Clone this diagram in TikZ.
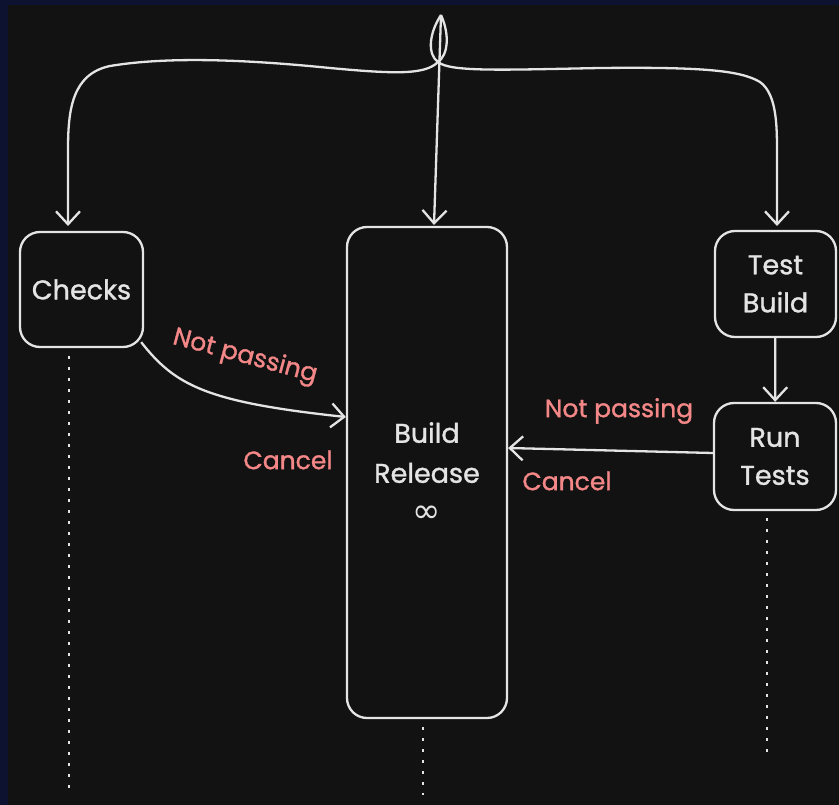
\documentclass[tikz,border=0pt]{standalone}
\usepackage{fontspec}
\setmainfont{Poppins}[FakeBold=1.2]
\newfontfamily\symbolfont{DejaVu Sans}
\usetikzlibrary{arrows.meta}
\definecolor{bgnavy}{HTML}{0D1230}
\definecolor{panel}{HTML}{121212}
\definecolor{ink}{HTML}{E4E4E4}
\definecolor{alert}{HTML}{F48787}

\begin{document}
\begin{tikzpicture}[x=1pt,y=-1pt,
  box/.style={draw=ink, line width=2.3pt, rounded corners=20pt, fill=panel,
    text=ink, align=center, inner sep=0pt,
    font=\fontsize{27}{38}\selectfont},
  flow/.style={draw=ink, line width=2.3pt,
    -{Straight Barb[length=13pt,width=24pt,line width=2.3pt]}},
  lifeline/.style={draw=ink, line width=2.3pt, dash pattern=on 3pt off 8pt},
  note/.style={text=alert, inner sep=0pt, font=\fontsize{25}{28}\selectfont}]

  % canvas
  \useasboundingbox (0,0) rectangle (839,805);
  \fill[bgnavy] (0,0) rectangle (839,805);
  \fill[panel] (8,5) rectangle (839,805);

  % lifelines under the stages
  \coordinate (ckTop) at (69,356);
  \coordinate (ckEnd) at (69,792);
  \coordinate (brTop) at (423,727);
  \coordinate (brEnd) at (423,795);
  \coordinate (rtTop) at (767,518);
  \coordinate (rtEnd) at (767,752);
  \draw[lifeline] (ckTop) -- (ckEnd);
  \draw[lifeline] (brTop) -- (brEnd);
  \draw[lifeline] (rtTop) -- (rtEnd);

  % stages
  \node[box, minimum width=123pt, minimum height=115pt] (checks) at (81.5,289.5) {Checks};
  \node[box, minimum width=160pt, minimum height=491pt, font=\fontsize{27}{40}\selectfont] (build) at (427,472.5) {Build\\Release\\{\symbolfont\fontsize{34}{40}\selectfont ∞}};
  \node[box, minimum width=121pt, minimum height=106pt] (testbuild) at (775.5,284) {Test\\Build};
  \node[box, minimum width=122pt, minimum height=107pt] (runtests) at (775,456.5) {Run\\Tests};

  % trigger fork at the top
  \coordinate (start) at (441,15);
  \coordinate (knot) at (438,62);
  \coordinate (ckIn) at (68,226);
  \coordinate (brIn) at (434,225);
  \coordinate (tbIn) at (777,226);
  \draw[flow] (start) -- (brIn);
  \draw[flow] (start) .. controls (450,35) and (448,55) .. (knot)
    .. controls (425,75) and (395,74) .. (330,68)
    .. controls (250,60) and (170,56) .. (110,66)
    .. controls (72,74) and (68,110) .. (68,150) -- (ckIn);
  \draw[flow] (start) .. controls (428,35) and (428,55) .. (knot)
    .. controls (450,72) and (500,70) .. (600,68)
    .. controls (700,67) and (740,70) .. (760,82)
    .. controls (778,95) and (777,130) .. (777,160) -- (tbIn);

  % transitions
  \draw[flow] (testbuild) -- (runtests);
  \draw[flow] (checks.south east) ++(-3,-6) coordinate (ckOut)
    .. controls (175,385) and (205,402) .. (build.west |- 0,417);
  \draw[flow] (runtests.west |- 0,453) -- (build.east |- 0,448);

  % labels
  \node[note, rotate=-15] (np1) at (245,357) {Not passing};
  \node[note] (cc1) at (288,460) {Cancel};
  \node[note] (np2) at (619,411) {Not passing};
  \node[note] (cc2) at (567,481) {Cancel};
\end{tikzpicture}
\end{document}
